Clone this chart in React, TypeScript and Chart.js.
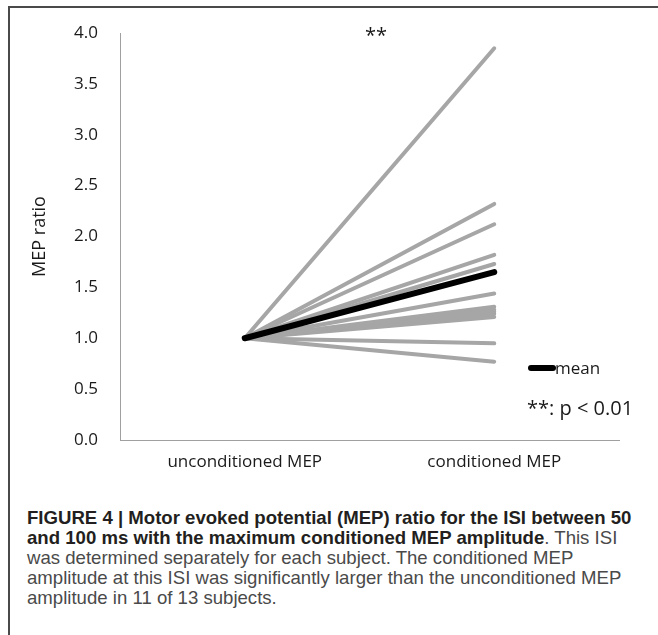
import React, { useEffect, useRef } from "react";
import { Chart, registerables } from "chart.js";

Chart.register(...registerables);

const categories = ["unconditioned MEP", "conditioned MEP"];
// MEP ratio per subject: [unconditioned, conditioned]
const subjectStart = [1.0, 1.0, 1.0, 1.0, 1.0, 1.0, 1.0, 1.0, 1.0, 1.0, 1.0, 1.0, 1.0];
const subjectEnd = [3.85, 2.32, 2.12, 1.82, 1.73, 1.44, 1.31, 1.28, 1.26, 1.24, 1.21, 0.95, 0.77];
const meanValues = [1.0, 1.65];
const yTicks = [0, 0.5, 1.0, 1.5, 2.0, 2.5, 3.0, 3.5, 4.0];

const captionBold1 = "FIGURE 4 | Motor evoked potential (MEP) ratio for the ISI between 50";
const captionBold2 = "and 100 ms with the maximum conditioned MEP amplitude";
const captionRest2 = ". This ISI";
const captionLines = [
  "was determined separately for each subject. The conditioned MEP",
  "amplitude at this ISI was significantly larger than the unconditioned MEP",
  "amplitude in 11 of 13 subjects.",
];

const FONT = "'Open Sans', 'Noto Sans', sans-serif";
const CAPTION_FONT = "'Liberation Sans Narrow', 'Liberation Sans', Arial, sans-serif";

export default function App() {
  const canvasRef = useRef<HTMLCanvasElement | null>(null);

  useEffect(() => {
    const canvas = canvasRef.current;
    if (!canvas) return;
    const datasets: any[] = [
      {
        label: "mean",
        data: meanValues,
        borderColor: "#000000",
        borderWidth: 6,
        borderCapStyle: "round",
        pointRadius: 0,
        order: 0,
      },
    ];
    subjectEnd.forEach((v, i) => {
      datasets.push({
        label: "S" + (i + 1),
        data: [subjectStart[i], v],
        borderColor: "#a6a6a6",
        borderWidth: 4,
        borderCapStyle: "round",
        pointRadius: 0,
        order: 1,
      });
    });
    const chart = new Chart(canvas, {
      type: "line",
      data: { labels: categories, datasets },
      options: {
        animation: false,
        responsive: false,
        maintainAspectRatio: false,
        layout: { padding: { top: 33, right: 39, bottom: 0, left: 0 } },
        plugins: { legend: { display: false }, tooltip: { enabled: false } },
        scales: {
          x: {
            type: "category",
            offset: true,
            grid: { display: false, drawTicks: false },
            border: { display: true, color: "#a0a0a0", width: 1 },
            ticks: {
              color: "#1a1a1a",
              font: { family: FONT, size: 17 },
              padding: 12,
              maxRotation: 0,
            },
            afterFit: (scale: any) => {
              scale.height = 50;
            },
          },
          y: {
            min: 0,
            max: 4,
            afterBuildTicks: (scale: any) => {
              scale.ticks = yTicks.map((v) => ({ value: v }));
            },
            grid: { display: false, drawTicks: false },
            border: { display: true, color: "#a0a0a0", width: 1 },
            ticks: {
              color: "#1a1a1a",
              font: { family: FONT, size: 17 },
              padding: 22,
              callback: (v: any) => Number(v).toFixed(1),
            },
            title: {
              display: true,
              text: "MEP ratio",
              color: "#1a1a1a",
              font: { family: FONT, size: 18 },
              padding: { top: 29, bottom: 0 },
            },
            afterFit: (scale: any) => {
              scale.width = 120;
            },
          },
        },
      },
    });
    return () => chart.destroy();
  }, []);

  return (
    <div style={{ position: "absolute", left: 0, top: 0, width: 658, height: 635, overflow: "hidden", background: "#fff" }}>
      <div
        style={{
          position: "absolute",
          left: 8,
          top: 6,
          width: 660,
          height: 640,
          borderLeft: "2px solid #4a4a4a",
          borderTop: "2px solid #4a4a4a",
        }}
      />
      <canvas
        ref={canvasRef}
        width={658}
        height={490}
        style={{ position: "absolute", left: 0, top: 0, width: 658, height: 490 }}
      />
      <div
        style={{
          position: "absolute",
          left: 365,
          top: 22,
          fontFamily: FONT,
          fontSize: 20,
          lineHeight: "26px",
          color: "#1a1a1a",
        }}
      >
        **
      </div>
      <div
        style={{
          position: "absolute",
          left: 528,
          top: 365,
          width: 28,
          height: 6,
          borderRadius: 3,
          background: "#000",
        }}
      />
      <div
        style={{
          position: "absolute",
          left: 555,
          top: 357,
          fontFamily: FONT,
          fontSize: 17,
          lineHeight: "22px",
          color: "#1a1a1a",
        }}
      >
        mean
      </div>
      <div
        style={{
          position: "absolute",
          left: 527,
          top: 394,
          fontFamily: FONT,
          fontSize: 20,
          lineHeight: "28px",
          color: "#1a1a1a",
          whiteSpace: "pre",
        }}
      >
        **: p &lt; 0.01
      </div>
      <div
        style={{
          position: "absolute",
          left: 27,
          top: 508,
          fontFamily: CAPTION_FONT,
          fontSize: 18.6,
          lineHeight: "20px",
          color: "#4a4a4a",
          whiteSpace: "pre",
        }}
      >
        <div style={{ fontWeight: "bold", color: "#231f20" }}>{captionBold1}</div>
        <div>
          <span style={{ fontWeight: "bold", color: "#231f20" }}>{captionBold2}</span>
          <span>{captionRest2}</span>
        </div>
        {captionLines.map((l, i) => (
          <div key={i}>{l}</div>
        ))}
      </div>
    </div>
  );
}
